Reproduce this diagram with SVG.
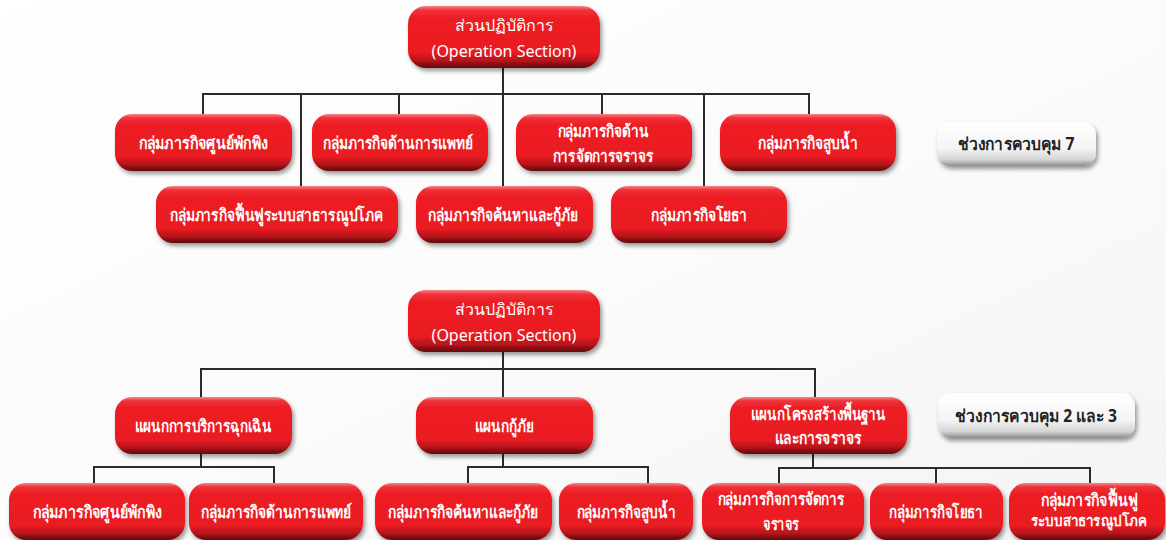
<svg xmlns="http://www.w3.org/2000/svg" width="1166" height="540" viewBox="0 0 1166 540">
<defs>
<linearGradient id="bg" x1="0" y1="0" x2="1" y2="1">
<stop offset="0" stop-color="#ffffff"/>
<stop offset="0.5" stop-color="#fbfbfb"/>
<stop offset="1" stop-color="#f4f4f6"/>
</linearGradient>
<linearGradient id="red" x1="0" y1="0" x2="0" y2="1">
<stop offset="0" stop-color="#f5868a"/>
<stop offset="0.07" stop-color="#ef3138"/>
<stop offset="0.2" stop-color="#ed1c24"/>
<stop offset="0.75" stop-color="#e91b23"/>
<stop offset="0.88" stop-color="#b5141a"/>
<stop offset="1" stop-color="#5e090c"/>
</linearGradient>
<linearGradient id="grey" x1="0" y1="0" x2="0" y2="1">
<stop offset="0" stop-color="#ffffff"/>
<stop offset="0.6" stop-color="#f4f4f4"/>
<stop offset="0.85" stop-color="#d6d6d6"/>
<stop offset="1" stop-color="#8c8c8c"/>
</linearGradient>
<filter id="sh" x="-10%" y="-10%" width="125%" height="135%">
<feDropShadow dx="2" dy="3" stdDeviation="2" flood-color="#000" flood-opacity="0.4"/>
</filter>
</defs>
<style>
.box{fill:url(#red);filter:url(#sh)}
.note{fill:url(#grey);filter:url(#sh)}
.t{font-family:"Noto Sans","DejaVu Sans",sans-serif;font-size:17px;font-weight:bold;fill:#fff;text-anchor:middle;dominant-baseline:central}
.r{font-size:16px;font-weight:normal}
.sm{font-size:15px}
.n{fill:#222}
.c{fill:none;stroke:#2b2b2b;stroke-width:2}
</style>
<rect width="1166" height="540" fill="url(#bg)"/>
<g id="connectors">
<path class="c" d="M503 68V94M203 114V94H809V114M301 94V186M399 94V114M503 94V186M602 94V114M704 94V186"/>
<path class="c" d="M503 352V369M201 397V369H815V397M503 369V397"/>
<path class="c" d="M201 454V467M94 483V467H274V483"/>
<path class="c" d="M503 454V467M468 483V467H648V483"/>
<path class="c" d="M813 454V468M779 483V468H1090V483M936 468V483"/>
</g>
<g id="root1"><rect class="box" x="408" y="6" width="192" height="62" rx="18"/><text class="t r" x="504" y="25">ส่วนปฏิบัติการ</text><text class="t r" x="504" y="51">(Operation Section)</text></g>
<g id="t1"><rect class="box" x="115" y="114" width="177" height="57" rx="17"/><text class="t" x="203" y="142" textLength="129" lengthAdjust="spacingAndGlyphs">กลุ่มภารกิจศูนย์พักพิง</text></g>
<g id="t2"><rect class="box" x="312" y="114" width="176" height="57" rx="17"/><text class="t" x="398" y="142" textLength="150" lengthAdjust="spacingAndGlyphs">กลุ่มภารกิจด้านการแพทย์</text></g>
<g id="t3"><rect class="box" x="516" y="114" width="176" height="57" rx="17"/><text class="t" x="603" y="130" textLength="91" lengthAdjust="spacingAndGlyphs">กลุ่มภารกิจด้าน</text><text class="t" x="603" y="155" textLength="101" lengthAdjust="spacingAndGlyphs">การจัดการจราจร</text></g>
<g id="t4"><rect class="box" x="720" y="114" width="176" height="57" rx="17"/><text class="t" x="808" y="142" textLength="100" lengthAdjust="spacingAndGlyphs">กลุ่มภารกิจสูบน้ำ</text></g>
<g id="t5"><rect class="box" x="156" y="186" width="242" height="57" rx="17"/><text class="t" x="276" y="214" textLength="213" lengthAdjust="spacingAndGlyphs">กลุ่มภารกิจฟื้นฟูระบบสาธารณูปโภค</text></g>
<g id="t6"><rect class="box" x="416" y="186" width="177" height="57" rx="17"/><text class="t" x="503" y="214" textLength="150" lengthAdjust="spacingAndGlyphs">กลุ่มภารกิจค้นหาและกู้ภัย</text></g>
<g id="t7"><rect class="box" x="611" y="186" width="176" height="57" rx="17"/><text class="t" x="699" y="214" textLength="97" lengthAdjust="spacingAndGlyphs">กลุ่มภารกิจโยธา</text></g>
<g id="note1"><rect class="note" x="937" y="122" width="159" height="44" rx="13"/><text class="t n" x="1016" y="143" textLength="117" lengthAdjust="spacingAndGlyphs">ช่วงการควบคุม 7</text></g>
<g id="root2"><rect class="box" x="408" y="290" width="192" height="62" rx="18"/><text class="t r" x="504" y="309">ส่วนปฏิบัติการ</text><text class="t r" x="504" y="335">(Operation Section)</text></g>
<g id="a"><rect class="box" x="115" y="397" width="177" height="57" rx="17"/><text class="t" x="203" y="425" textLength="137" lengthAdjust="spacingAndGlyphs">แผนกการบริการฉุกเฉิน</text></g>
<g id="b"><rect class="box" x="416" y="397" width="177" height="57" rx="17"/><text class="t" x="504" y="425" textLength="59" lengthAdjust="spacingAndGlyphs">แผนกกู้ภัย</text></g>
<g id="c"><rect class="box" x="730" y="397" width="177" height="57" rx="17"/><text class="t" x="818" y="413" textLength="135" lengthAdjust="spacingAndGlyphs">แผนกโครงสร้างพื้นฐาน</text><text class="t" x="818" y="437" textLength="87" lengthAdjust="spacingAndGlyphs">และการจราจร</text></g>
<g id="note2"><rect class="note" x="938" y="393" width="197" height="45" rx="13"/><text class="t n" x="1036" y="415" textLength="162" lengthAdjust="spacingAndGlyphs">ช่วงการควบคุม 2 และ 3</text></g>
<g id="s1"><rect class="box" x="9" y="483" width="176" height="57" rx="17"/><text class="t" x="97" y="511" textLength="129" lengthAdjust="spacingAndGlyphs">กลุ่มภารกิจศูนย์พักพิง</text></g>
<g id="s2"><rect class="box" x="189" y="483" width="174" height="57" rx="17"/><text class="t" x="276" y="511" textLength="151" lengthAdjust="spacingAndGlyphs">กลุ่มภารกิจด้านการแพทย์</text></g>
<g id="s3"><rect class="box" x="375" y="483" width="177" height="57" rx="17"/><text class="t" x="463" y="511" textLength="151" lengthAdjust="spacingAndGlyphs">กลุ่มภารกิจค้นหาและกู้ภัย</text></g>
<g id="s4"><rect class="box" x="559" y="483" width="134" height="57" rx="17"/><text class="t" x="626" y="511" textLength="99" lengthAdjust="spacingAndGlyphs">กลุ่มภารกิจสูบน้ำ</text></g>
<g id="s5"><rect class="box" x="702" y="483" width="162" height="57" rx="17"/><text class="t" x="781" y="498" textLength="127" lengthAdjust="spacingAndGlyphs">กลุ่มภารกิจการจัดการ</text><text class="t" x="781" y="523" textLength="36" lengthAdjust="spacingAndGlyphs">จราจร</text></g>
<g id="s6"><rect class="box" x="870" y="483" width="133" height="57" rx="17"/><text class="t" x="936" y="511" textLength="94" lengthAdjust="spacingAndGlyphs">กลุ่มภารกิจโยธา</text></g>
<g id="s7"><rect class="box" x="1009" y="483" width="156" height="57" rx="17"/><text class="t" x="1089" y="499" textLength="97" lengthAdjust="spacingAndGlyphs">กลุ่มภารกิจฟื้นฟู</text><text class="t sm" x="1089" y="520" textLength="116" lengthAdjust="spacingAndGlyphs">ระบบสาธารณูปโภค</text></g>
</svg>
